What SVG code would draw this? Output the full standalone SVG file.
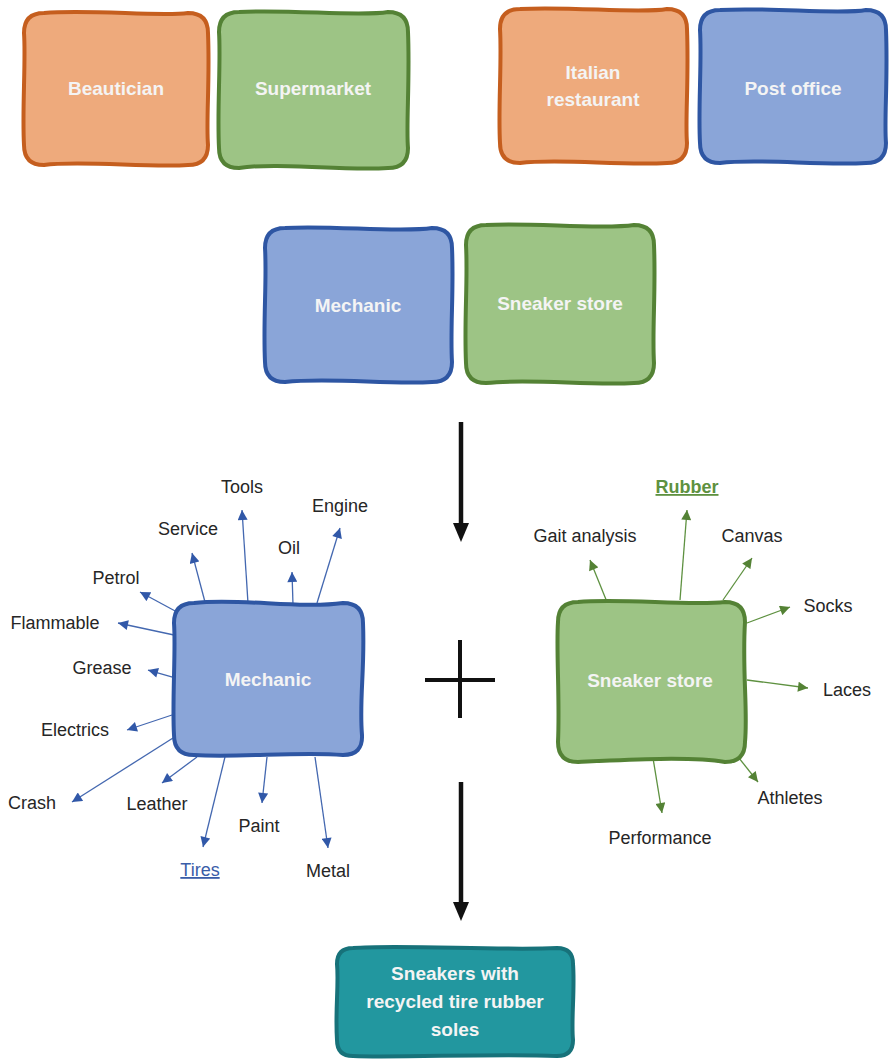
<svg xmlns="http://www.w3.org/2000/svg" width="889" height="1061" viewBox="0 0 889 1061">
<defs>
<style>
.or{fill:#EEAA7C;stroke:#C55E1E;stroke-width:4;stroke-linejoin:round}
.gr{fill:#9DC485;stroke:#548235;stroke-width:4;stroke-linejoin:round}
.bl{fill:#8AA5D8;stroke:#2E56A3;stroke-width:4;stroke-linejoin:round}
.tl{fill:#22979F;stroke:#17727A;stroke-width:4;stroke-linejoin:round}
.lb{font-family:"Liberation Sans",Arial,sans-serif;font-size:19px;font-weight:bold;fill:#F4F4F4;text-anchor:middle}
.tx{font-family:"Liberation Sans",Arial,sans-serif;font-size:18px;fill:#262626;text-anchor:middle}
.sb{stroke:#4468B0;stroke-width:1.3;fill:none}
.sg{stroke:#5E9140;stroke-width:1.3;fill:none}
.big{stroke:#111;stroke-width:4.5;fill:none}
</style>
<marker id="ab" viewBox="0 0 10 10" refX="10" refY="5" markerWidth="11" markerHeight="10" markerUnits="userSpaceOnUse" orient="auto"><path d="M0,0 L10,5 L0,10 Z" fill="#3158A8"/></marker>
<marker id="ag" viewBox="0 0 10 10" refX="10" refY="5" markerWidth="11" markerHeight="10" markerUnits="userSpaceOnUse" orient="auto"><path d="M0,0 L10,5 L0,10 Z" fill="#548235"/></marker>
<marker id="ak" viewBox="0 0 19 16" refX="1" refY="8" markerWidth="19" markerHeight="16" markerUnits="userSpaceOnUse" orient="auto"><path d="M0,0 L19,8 L0,16 Z" fill="#111"/></marker>
</defs>
<rect width="889" height="1061" fill="#fff"/>

<g id="beautician">
<path class="or" d="M44,13 C90,9 160,17 188,13 Q208,13 208,33 C210,80 206,120 208,145 Q208,165 188,165 C150,168 80,160 44,165 Q24,165 24,145 C22,110 26,60 24,33 Q24,13 44,13 Z"/>
<text class="lb" x="116" y="95">Beautician</text>
</g>
<g id="supermarket">
<path class="gr" d="M239,12 C290,9 360,17 388,12 Q408,12 408,32 C410,80 406,125 408,148 Q408,168 388,168 C340,171 280,162 239,168 Q219,168 219,148 C217,110 221,60 219,32 Q219,12 239,12 Z"/>
<text class="lb" x="313" y="95">Supermarket</text>
</g>
<g id="italian">
<path class="or" d="M520,9 C570,6 640,14 667,9 Q687,9 687,29 C689,80 685,120 687,143 Q687,163 667,163 C620,166 560,158 520,163 Q500,163 500,143 C498,110 502,60 500,29 Q500,9 520,9 Z"/>
<text class="lb" x="593" y="79">Italian</text>
<text class="lb" x="593" y="106">restaurant</text>
</g>
<g id="postoffice">
<path class="bl" d="M720,10 C770,7 840,15 866,10 Q886,10 886,30 C888,80 884,120 886,143 Q886,163 866,163 C820,166 760,158 720,163 Q700,163 700,143 C698,110 702,60 700,30 Q700,10 720,10 Z"/>
<text class="lb" x="793" y="95">Post office</text>
</g>

<g id="mechanic-top">
<path class="bl" d="M285,228 C330,225 400,233 432,228 Q452,228 452,248 C454,290 450,330 452,362 Q452,382 432,382 C390,385 330,377 285,382 Q265,382 265,362 C263,320 267,280 265,248 Q265,228 285,228 Z"/>
<text class="lb" x="358" y="312">Mechanic</text>
</g>
<g id="sneaker-top">
<path class="gr" d="M486,225 C530,222 600,230 634,225 Q654,225 654,245 C656,290 652,330 654,363 Q654,383 634,383 C590,386 530,378 486,383 Q466,383 466,363 C464,320 468,280 466,245 Q466,225 486,225 Z"/>
<text class="lb" x="560" y="310">Sneaker store</text>
</g>

<g id="connectors">
<line class="big" x1="461" y1="422" x2="461" y2="524" marker-end="url(#ak)"/>
<line class="big" x1="461" y1="782" x2="461" y2="903" marker-end="url(#ak)"/>
<line x1="425" y1="680" x2="495" y2="680" stroke="#111" stroke-width="4"/>
<line x1="460" y1="640" x2="460" y2="718" stroke="#111" stroke-width="4"/>

<line class="sb" x1="248" y1="603" x2="242" y2="510" marker-end="url(#ab)"/>
<line class="sb" x1="205" y1="602" x2="192" y2="553" marker-end="url(#ab)"/>
<line class="sb" x1="293" y1="605" x2="292" y2="572" marker-end="url(#ab)"/>
<line class="sb" x1="317" y1="603" x2="340" y2="528" marker-end="url(#ab)"/>
<line class="sb" x1="177" y1="612" x2="140" y2="592" marker-end="url(#ab)"/>
<line class="sb" x1="174" y1="635" x2="118" y2="623" marker-end="url(#ab)"/>
<line class="sb" x1="176" y1="678" x2="148" y2="670" marker-end="url(#ab)"/>
<line class="sb" x1="172" y1="715" x2="127" y2="730" marker-end="url(#ab)"/>
<line class="sb" x1="173" y1="738" x2="72" y2="802" marker-end="url(#ab)"/>
<line class="sb" x1="197" y1="757" x2="162" y2="783" marker-end="url(#ab)"/>
<line class="sb" x1="225" y1="757" x2="203" y2="847" marker-end="url(#ab)"/>
<line class="sb" x1="267" y1="757" x2="262" y2="803" marker-end="url(#ab)"/>
<line class="sb" x1="315" y1="757" x2="328" y2="848" marker-end="url(#ab)"/>

<line class="sg" x1="680" y1="600" x2="687" y2="510" marker-end="url(#ag)"/>
<line class="sg" x1="607" y1="602" x2="590" y2="560" marker-end="url(#ag)"/>
<line class="sg" x1="723" y1="600" x2="752" y2="558" marker-end="url(#ag)"/>
<line class="sg" x1="747" y1="623" x2="790" y2="607" marker-end="url(#ag)"/>
<line class="sg" x1="747" y1="680" x2="808" y2="688" marker-end="url(#ag)"/>
<line class="sg" x1="735" y1="753" x2="758" y2="782" marker-end="url(#ag)"/>
<line class="sg" x1="653" y1="758" x2="662" y2="813" marker-end="url(#ag)"/>
</g>

<g id="mechanic">
<path class="bl" d="M194,603 C240,598 300,609 343,603 Q363,603 363,623 C365,670 359,700 362,735 Q363,755 343,755 C300,751 240,758 194,755 Q174,755 174,735 C172,700 176,650 174,623 Q174,603 194,603 Z"/>
<text class="lb" x="268" y="686">Mechanic</text>
</g>
<g id="sneaker">
<path class="gr" d="M578,602 C620,598 690,606 725,602 Q745,602 745,622 C742,670 748,710 745,742 Q745,762 725,762 C690,756 620,760 578,762 Q558,762 558,742 C560,700 556,650 558,622 Q558,602 578,602 Z"/>
<text class="lb" x="650" y="687">Sneaker store</text>
</g>

<g id="labels-mechanic">
<text class="tx" x="242" y="493">Tools</text>
<text class="tx" x="188" y="535">Service</text>
<text class="tx" x="289" y="554">Oil</text>
<text class="tx" x="340" y="512">Engine</text>
<text class="tx" x="116" y="584">Petrol</text>
<text class="tx" x="55" y="629">Flammable</text>
<text class="tx" x="102" y="674">Grease</text>
<text class="tx" x="75" y="736">Electrics</text>
<text class="tx" x="32" y="809">Crash</text>
<text class="tx" x="157" y="810">Leather</text>
<text class="tx" x="200" y="876" style="fill:#3A5DA8" text-decoration="underline">Tires</text>
<text class="tx" x="259" y="832">Paint</text>
<text class="tx" x="328" y="877">Metal</text>
</g>

<g id="labels-sneaker">
<text class="tx" x="687" y="493" style="fill:#5E9140;font-weight:bold" text-decoration="underline">Rubber</text>
<text class="tx" x="585" y="542">Gait analysis</text>
<text class="tx" x="752" y="542">Canvas</text>
<text class="tx" x="828" y="612">Socks</text>
<text class="tx" x="847" y="696">Laces</text>
<text class="tx" x="790" y="804">Athletes</text>
<text class="tx" x="660" y="844">Performance</text>
</g>

<g id="result">
<path class="tl" d="M353,948 C400,944 500,951 557,948 Q573,948 573,964 C575,990 571,1020 573,1040 Q573,1056 557,1056 C500,1053 400,1058 353,1056 Q337,1056 337,1040 C335,1010 339,985 337,964 Q337,948 353,948 Z"/>
<text class="lb" x="455" y="980">Sneakers with</text>
<text class="lb" x="455" y="1008">recycled tire rubber</text>
<text class="lb" x="455" y="1036">soles</text>
</g>
</svg>
